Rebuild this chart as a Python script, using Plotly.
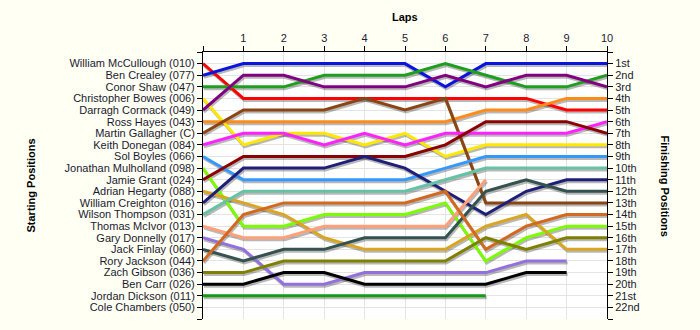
import plotly.graph_objects as go

laps = list(range(0, 11))
lap_labels = [""] + [str(i) for i in range(1, 11)]

drivers = [
    "William McCullough (010)", "Ben Crealey (077)", "Conor Shaw (047)",
    "Christopher Bowes (006)", "Darragh Cormack (049)", "Ross Hayes (043)",
    "Martin Gallagher (C)", "Keith Donegan (084)", "Sol Boyles (066)",
    "Jonathan Mulholland (098)", "Jamie Grant (024)", "Adrian Hegarty (088)",
    "William Creighton (016)", "Wilson Thompson (031)", "Thomas McIvor (013)",
    "Gary Donnelly (017)", "Jack Finlay (060)", "Rory Jackson (044)",
    "Zach Gibson (036)", "Ben Carr (026)", "Jordan Dickson (011)",
    "Cole Chambers (050)",
]

finish_labels = ["1st", "2nd", "3rd", "4th", "5th", "6th", "7th", "8th", "9th",
                 "10th", "11th", "12th", "13th", "14th", "15th", "16th", "17th",
                 "18th", "19th", "20th", "21st", "22nd"]

N = None
# position of each driver at the end of each lap (lap 0 = grid)
pos_mccullough = [1, 4, 4, 4, 4, 4, 4, 4, 4, 5, 5]
pos_crealey    = [2, 1, 1, 1, 1, 1, 3, 1, 1, 1, 1]
pos_shaw       = [3, 3, 3, 2, 2, 2, 1, 2, 3, 3, 2]
pos_bowes      = [4, 8, 7, 7, 8, 7, 9, 8, 8, 8, 8]
pos_cormack    = [5, 2, 2, 3, 3, 3, 2, 3, 2, 2, 3]
pos_hayes      = [6, 6, 6, 6, 6, 6, 6, 5, 5, 4, 4]
pos_gallagher  = [7, 5, 5, 5, 4, 5, 4, 13, 13, 13, 13]
pos_donegan    = [8, 7, 7, 8, 7, 8, 7, 7, 7, 7, 6]
pos_boyles     = [9, 11, 11, 11, 11, 11, 10, 9, 9, 9, 9]
pos_mulholland = [10, 15, 15, 14, 14, 14, 13, 18, 16, 15, 15]
pos_grant      = [11, 9, 9, 9, 9, 9, 8, 6, 6, 6, 7]
pos_hegarty    = [12, 13, 14, 16, 17, 17, 17, 15, 14, 17, 17]
pos_creighton  = [13, 10, 10, 10, 9, 10, 12, 14, 12, 11, 11]
pos_thompson   = [14, 12, 12, 12, 12, 12, 11, 10, 10, 10, 10]
pos_mcivor     = [15, 16, 16, 15, 15, 15, 15, 11, N, N, N]
pos_donnelly   = [16, 17, 20, 20, 19, 19, 19, 19, 18, 18, N]
pos_finlay     = [17, 18, 17, 17, 16, 16, 16, 12, 11, 12, 12]
pos_jackson    = [18, 14, 13, 13, 13, 13, 12, 17, 15, 14, 14]
pos_gibson     = [19, 19, 18, 18, 18, 18, 18, 16, 17, 16, 16]
pos_carr       = [20, 20, 19, 19, 20, 20, 20, 20, 19, 19, N]
pos_dickson    = [21, 21, 21, 21, 21, 21, 21, 21, N, N, N]
pos_chambers   = [N] * 11

series = [pos_mccullough, pos_crealey, pos_shaw, pos_bowes, pos_cormack,
          pos_hayes, pos_gallagher, pos_donegan, pos_boyles, pos_mulholland,
          pos_grant, pos_hegarty, pos_creighton, pos_thompson, pos_mcivor,
          pos_donnelly, pos_finlay, pos_jackson, pos_gibson, pos_carr,
          pos_dickson, pos_chambers]

colors = ["#FF0000", "#0A14DC", "#1E9E1E", "#FFE800", "#800080", "#FF8C1A",
          "#8B4513", "#FF22FF", "#3399FF", "#7CFC00", "#8B0000", "#DAA520",
          "#1F1F7A", "#66C2A5", "#FFA07A", "#9370DB", "#34524E", "#D2691E",
          "#808000", "#000000", "#139A13", "#999999"]

fig = go.Figure()

# shadows (main axes, shifted by a couple of pixels)
for name, ys in zip(drivers, series):
    fig.add_trace(go.Scatter(x=laps, y=ys, mode="lines", xaxis="x", yaxis="y",
                             line=dict(color="rgba(0,0,0,0.28)", width=3),
                             hoverinfo="skip", showlegend=False))

# coloured lines
for name, ys, c in zip(drivers, series, colors):
    fig.add_trace(go.Scatter(x=laps, y=ys, mode="lines", name=name,
                             xaxis="x2", yaxis="y2",
                             line=dict(color=c, width=3), showlegend=False))

# right-hand axis carrier
fig.add_trace(go.Scatter(x=laps, y=pos_chambers, mode="lines", xaxis="x2",
                         yaxis="y3", showlegend=False, hoverinfo="skip"))

W_PX = 404.0
H_PX = 267.0
NPOS = 23
dx = 1 * 10 / W_PX
dy = 2 * NPOS / H_PX

font = dict(family="Liberation Sans, Arial, sans-serif", size=11, color="#1a1a30")
grid = "#E4E4E4"

pos_vals = list(range(0, NPOS + 1))
left_text = [""] + drivers + [""]
right_text = [""] + finish_labels + [""]

fig.update_layout(
    width=700, height=330,
    margin=dict(l=203, r=93, t=52, b=11),
    paper_bgcolor="#FFFFF4",
    plot_bgcolor="#FFFFFF",
    font=font,
    showlegend=False,
    xaxis=dict(range=[0 - dx, 10 - dx], visible=False, fixedrange=True),
    yaxis=dict(range=[NPOS - dy, 0 - dy], visible=False, fixedrange=True),
    xaxis2=dict(overlaying="x", anchor="y2", side="top", range=[0, 10],
                tickmode="array", tickvals=laps, ticktext=lap_labels,
                showline=True, linecolor="black", linewidth=1,
                ticks="outside", ticklen=5, tickcolor="black",
                showgrid=True, gridcolor=grid, zeroline=False, tickfont=font),
    yaxis2=dict(overlaying="y", anchor="x2", side="left", range=[NPOS, 0],
                tickmode="array", tickvals=pos_vals, ticktext=left_text,
                showline=True, linecolor="black", linewidth=1,
                ticks="outside", ticklen=5, tickcolor="black",
                showgrid=True, gridcolor=grid, zeroline=False, tickfont=font),
    yaxis3=dict(overlaying="y", anchor="x2", side="right", range=[NPOS, 0],
                tickmode="array", tickvals=pos_vals, ticktext=right_text,
                showline=True, linecolor="black", linewidth=1,
                ticks="outside", ticklen=5, tickcolor="black",
                showgrid=False, zeroline=False, tickfont=font),
    annotations=[
        dict(text="<b>Laps</b>", xref="paper", yref="paper", x=0.5,
             y=1 + 35 / H_PX, showarrow=False, xanchor="center",
             yanchor="middle", font=dict(family=font["family"], size=11, color="black")),
        dict(text="<b>Starting Positions</b>", xref="paper", yref="paper",
             x=(30 - 203) / W_PX, y=0.5, textangle=-90, showarrow=False,
             xanchor="center", yanchor="middle",
             font=dict(family=font["family"], size=11, color="black")),
        dict(text="<b>Finishing Positions</b>", xref="paper", yref="paper",
             x=(665 - 203) / W_PX, y=0.5, textangle=90, showarrow=False,
             xanchor="center", yanchor="middle",
             font=dict(family=font["family"], size=11, color="black")),
    ],
)

fig.write_html("out.html")
